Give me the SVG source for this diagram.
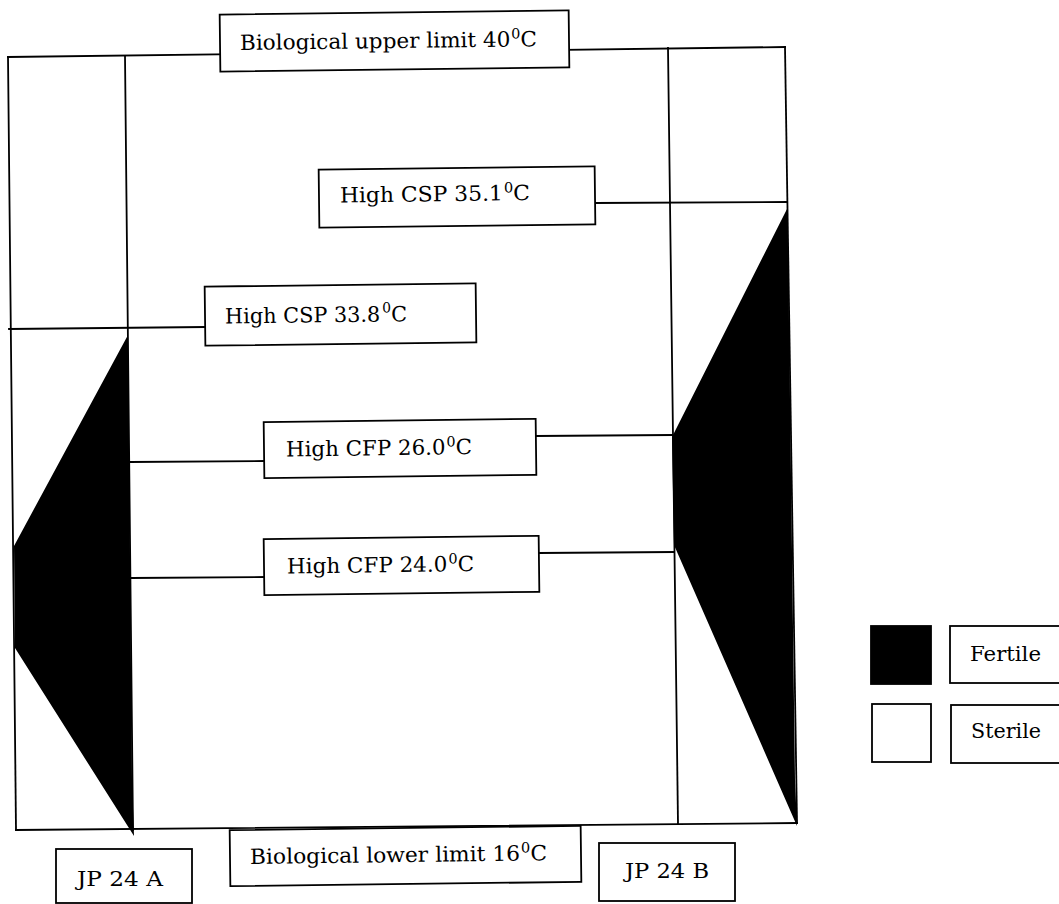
<svg xmlns="http://www.w3.org/2000/svg" width="1059" height="904" viewBox="0 0 1059 904">
<style>
.ln{stroke:#000;stroke-width:1.8;fill:none;stroke-linecap:square}
.bx{fill:#fff;stroke:#000;stroke-width:1.8}
.fill{fill:#000;stroke:none}
.t{font-family:"DejaVu Serif","Liberation Serif",serif;font-size:21px;fill:#000}
.sup{font-size:14px}
</style>
<rect x="0" y="0" width="1059" height="904" fill="#fff"/>
<g id="left-column">
<polygon class="fill" points="128,335 14,546 15,648 134,836 132,780"/>
</g>
<g id="right-column">
<polygon class="fill" points="787.5,208 672,437 674,545 797,826 795,780"/>
</g>
<g id="connectors">
<line class="ln" x1="8" y1="57" x2="785" y2="47"/>
<line class="ln" x1="8" y1="57" x2="16" y2="830"/>
<line class="ln" x1="785" y1="47" x2="797" y2="823"/>
<line class="ln" x1="16" y1="830" x2="797" y2="823"/>
<line class="ln" x1="125" y1="56" x2="133" y2="830"/>
<line class="ln" x1="668" y1="48" x2="678" y2="824"/>
<line class="ln" x1="9" y1="329" x2="205" y2="327"/>
<line class="ln" x1="595" y1="203" x2="787" y2="202"/>
<line class="ln" x1="130" y1="462" x2="264" y2="461"/>
<line class="ln" x1="536" y1="436" x2="672" y2="435"/>
<line class="ln" x1="131" y1="578" x2="265" y2="577"/>
<line class="ln" x1="539" y1="553" x2="674" y2="552"/>
</g>
<g id="upper-limit" transform="rotate(-0.7 394.5 41)">
<rect class="bx" x="220" y="12.5" width="349" height="57"/>
<text class="t" x="240" y="48" textLength="297" lengthAdjust="spacingAndGlyphs">Biological upper limit 40<tspan class="sup" dx="1" dy="-8">0</tspan><tspan dy="8">C</tspan></text>
</g>
<g id="high-csp-351" transform="rotate(-0.7 457 197)">
<rect class="bx" x="319" y="168" width="276" height="58"/>
<text class="t" x="340" y="201" textLength="190" lengthAdjust="spacingAndGlyphs">High CSP 35.1<tspan class="sup" dx="1" dy="-8">0</tspan><tspan dy="8">C</tspan></text>
</g>
<g id="high-csp-338" transform="rotate(-0.7 340 314)">
<rect class="bx" x="205" y="285" width="271" height="59"/>
<text class="t" x="225" y="322" textLength="182" lengthAdjust="spacingAndGlyphs">High CSP 33.8<tspan class="sup" dx="2" dy="-9">0</tspan><tspan dy="9">C</tspan></text>
</g>
<g id="high-cfp-260" transform="rotate(-0.7 400 448)">
<rect class="bx" x="264" y="420.5" width="272" height="56"/>
<text class="t" x="286" y="455" textLength="186" lengthAdjust="spacingAndGlyphs">High CFP 26.0<tspan class="sup" dx="1" dy="-8">0</tspan><tspan dy="8">C</tspan></text>
</g>
<g id="high-cfp-240" transform="rotate(-0.7 401 565)">
<rect class="bx" x="264" y="537.5" width="275" height="56"/>
<text class="t" x="287" y="572" textLength="187" lengthAdjust="spacingAndGlyphs">High CFP 24.0<tspan class="sup" dx="1" dy="-8">0</tspan><tspan dy="8">C</tspan></text>
</g>
<g id="lower-limit" transform="rotate(-0.7 405 856)">
<rect class="bx" x="230" y="828" width="351" height="56"/>
<text class="t" x="250" y="862" textLength="297" lengthAdjust="spacingAndGlyphs">Biological lower limit 16<tspan class="sup" dx="1" dy="-8">0</tspan><tspan dy="8">C</tspan></text>
</g>
<g id="jp24a">
<rect class="bx" x="56" y="849" width="136" height="54"/>
<text class="t" x="77" y="886" textLength="86" lengthAdjust="spacingAndGlyphs">JP 24 A</text>
</g>
<g id="jp24b">
<rect class="bx" x="599" y="843" width="136" height="58"/>
<text class="t" x="625" y="878" textLength="84" lengthAdjust="spacingAndGlyphs">JP 24 B</text>
</g>
<g id="legend-fertile">
<rect x="871" y="626" width="60" height="58" fill="#000" stroke="#000" stroke-width="1.8"/>
<rect class="bx" x="950" y="626" width="115" height="57"/>
<text class="t" x="970" y="661" textLength="71" lengthAdjust="spacingAndGlyphs">Fertile</text>
</g>
<g id="legend-sterile">
<rect class="bx" x="872" y="704" width="59" height="58"/>
<rect class="bx" x="951" y="705" width="115" height="58"/>
<text class="t" x="971" y="738" textLength="70" lengthAdjust="spacingAndGlyphs">Sterile</text>
</g>
</svg>
